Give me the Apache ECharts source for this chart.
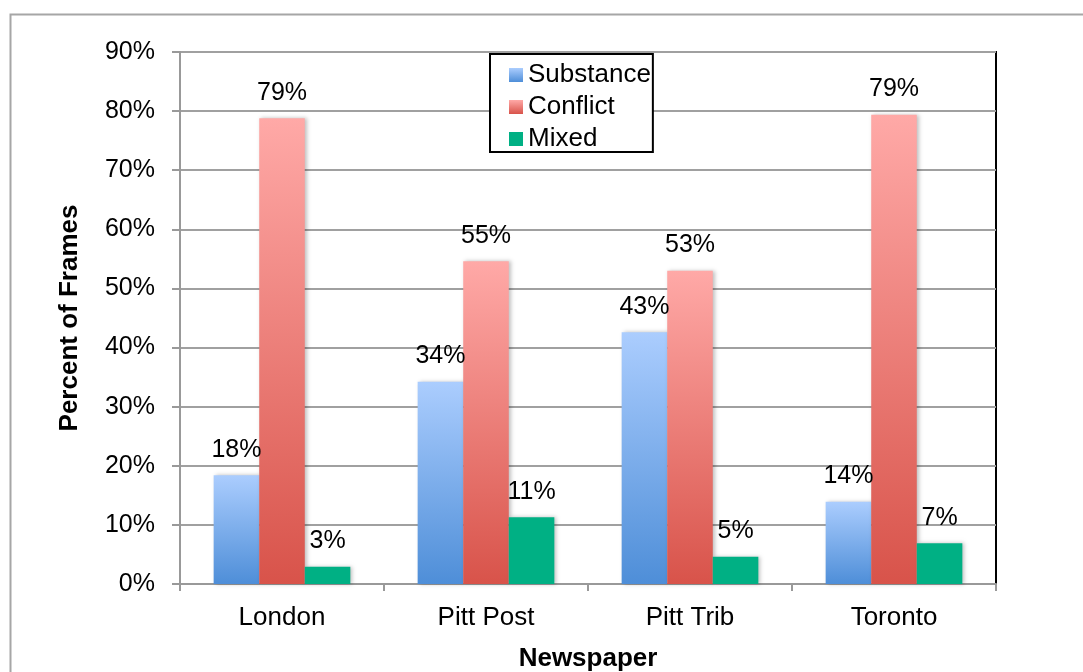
<!DOCTYPE html>
<html>
<head>
<meta charset="utf-8">
<script src="https://cdn.jsdelivr.net/npm/echarts@6/dist/echarts.min.js"></script>
<style>
    html, body { margin: 0; padding: 0; background: #fff; }
    #chart { width: 1083px; height: 672px; }
</style>
</head>
<body>
<div id="chart"></div>
<script>
const categories = ['London', 'Pitt Post', 'Pitt Trib', 'Toronto'];
const substance = [18.4, 34.2, 42.6, 13.9];
const conflict = [78.8, 54.6, 53.0, 79.4];
const mixed = [2.9, 11.3, 4.6, 6.9];
const yTicks = [0, 10, 20, 30, 40, 50, 60, 70, 80, 90];

const FONT = '"Liberation Sans", Arial, sans-serif';

function gradient(top, bottom) {
    return new echarts.graphic.LinearGradient(0, 0, 0, 1, [
        { offset: 0, color: top },
        { offset: 1, color: bottom }
    ]);
}

const barLabel = {
    show: true,
    position: 'top',
    distance: 13,
    fontFamily: FONT,
    fontSize: 25,
    color: '#000',
    formatter: p => Math.round(p.value) + '%'
};

const barShadow = {
    shadowBlur: 4,
    shadowOffsetX: 2,
    shadowOffsetY: 0,
    shadowColor: 'rgba(0, 0, 0, 0.25)'
};

const chart = echarts.init(document.getElementById('chart'));

const option = {
    animation: false,
    textStyle: { fontFamily: FONT },
    graphic: [
        {
            type: 'rect',
            left: 8,
            top: 12,
            shape: { width: 1100, height: 700 },
            style: { fill: 'none', stroke: '#a6a6a6', lineWidth: 2 },
            silent: true
        }
    ],
    grid: {
        left: 180,
        right: 87,
        top: 52,
        bottom: 88,
        containLabel: false,
        outerBoundsMode: 'none',
        show: true,
        borderColor: '#000',
        borderWidth: 2
    },
    legend: {
        orient: 'vertical',
        left: 490,
        top: 54,
        backgroundColor: '#fff',
        borderColor: '#000',
        borderWidth: 2,
        padding: [8, 2, 0, 19],
        itemWidth: 14,
        itemHeight: 14,
        itemGap: 6,
        itemStyle: { shadowBlur: 0 },
        textStyle: { fontFamily: FONT, fontSize: 26, color: '#000', lineHeight: 26 },
        data: [
            { name: 'Substance', icon: 'rect' },
            { name: 'Conflict', icon: 'rect' },
            { name: 'Mixed', icon: 'rect' }
        ]
    },
    xAxis: {
        type: 'category',
        data: categories,
        name: 'Newspaper',
        nameLocation: 'middle',
        nameGap: 62,
        nameTextStyle: { fontFamily: FONT, fontSize: 26, fontWeight: 'bold', color: '#000' },
        axisLine: { show: true, lineStyle: { color: '#999', width: 2 } },
        axisTick: { show: true, length: 7, lineStyle: { color: '#999', width: 2 } },
        axisLabel: { fontFamily: FONT, fontSize: 26, color: '#000', margin: 21 },
        splitLine: { show: false }
    },
    yAxis: {
        type: 'value',
        min: 0,
        max: 90,
        interval: 10,
        name: 'Percent of Frames',
        nameLocation: 'middle',
        nameGap: 97,
        nameTextStyle: { fontFamily: FONT, fontSize: 26, fontWeight: 'bold', color: '#000' },
        axisLine: { show: true, lineStyle: { color: '#999', width: 2 } },
        axisTick: { show: true, length: 8, lineStyle: { color: '#999', width: 2 } },
        axisLabel: {
            fontFamily: FONT,
            fontSize: 25,
            color: '#000',
            margin: 25,
            formatter: v => (yTicks.includes(v) ? v + '%' : '')
        },
        splitLine: { show: true, lineStyle: { color: '#a0a0a0', width: 2 } }
    },
    series: [
        {
            name: 'Substance',
            type: 'bar',
            data: substance,
            barGap: '0%',
            barCategoryGap: '33%',
            itemStyle: Object.assign({ color: gradient('#abcdfe', '#4e8ed8') }, barShadow),
            label: barLabel
        },
        {
            name: 'Conflict',
            type: 'bar',
            data: conflict,
            itemStyle: Object.assign({ color: gradient('#ffa9a7', '#d8534a') }, barShadow),
            label: barLabel
        },
        {
            name: 'Mixed',
            type: 'bar',
            data: mixed,
            itemStyle: Object.assign({ color: '#00b084' }, barShadow),
            label: barLabel
        }
    ]
};

chart.setOption(option);
</script>
</body>
</html>
